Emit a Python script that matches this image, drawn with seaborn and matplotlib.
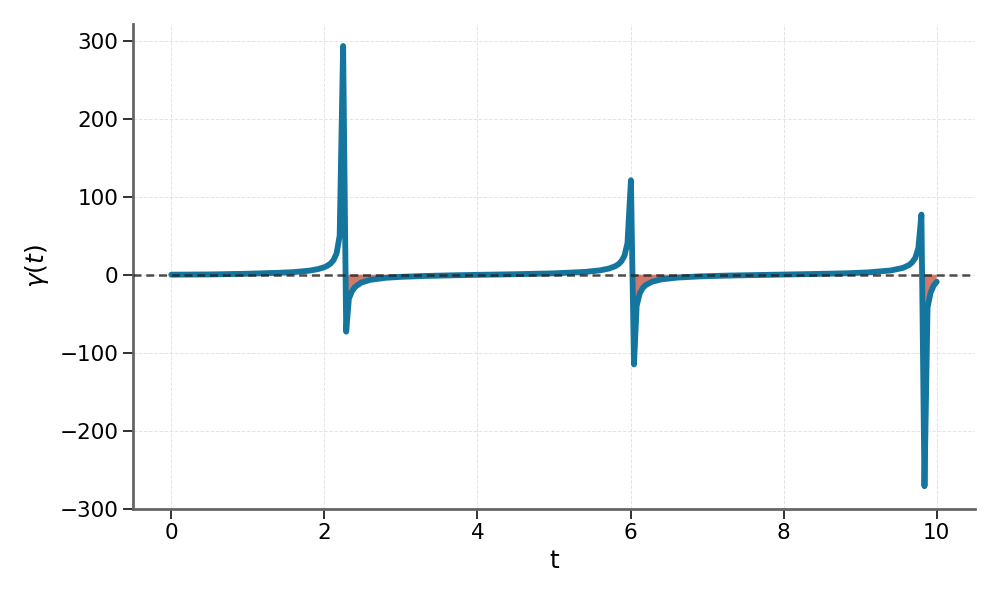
import numpy as np
import pandas as pd
import matplotlib
matplotlib.use("Agg")
import matplotlib.pyplot as plt
import seaborn as sns

t_vals = [0.0, 0.5, 1.0, 1.4, 1.6, 1.8, 1.92, 2.0, 2.04, 2.08, 2.12, 2.16, 2.20, 2.245,
          2.285, 2.32, 2.36, 2.40, 2.48, 2.6, 2.8, 3.0, 3.3, 3.6, 4.0, 4.14, 4.5, 5.0,
          5.4, 5.6, 5.72, 5.8, 5.84, 5.88, 5.92, 5.96, 6.005,
          6.045, 6.08, 6.12, 6.16, 6.2, 6.28, 6.4, 6.6, 6.9, 7.3, 7.8, 8.3, 8.8,
          9.1, 9.4, 9.56, 9.64, 9.68, 9.72, 9.76, 9.80,
          9.84, 9.88, 9.92, 9.96, 10.0]
gamma_vals = [0.0, 0.3, 1.2, 2.4, 3.3, 5.1, 7.2, 9.6, 11.5, 14.2, 18.7, 27.3, 50.1, 293.0,
              -73.0, -31.0, -21.4, -15.8, -10.2, -6.6, -4.0, -2.8, -1.7, -1.0, -0.2, 0.0, 0.6, 1.7,
              3.5, 5.5, 7.9, 10.8, 13.3, 17.2, 24.1, 40.4, 121.0,
              -115.0, -39.7, -23.9, -17.0, -13.2, -9.1, -6.1, -3.8, -2.2, -1.1, -0.2, 0.7, 1.7,
              2.9, 5.4, 8.7, 12.5, 15.9, 21.6, 33.9, 77.0,
              -271.0, -42.0, -23.0, -14.0, -9.0]

x_ticks = [0, 2, 4, 6, 8, 10]
y_ticks = [-300, -200, -100, 0, 100, 200, 300]

sns.set_theme(style="white")
plt.rcParams['font.family'] = ['DejaVu Sans']

df = pd.DataFrame({"t": t_vals, "gamma": gamma_vals})

fig, ax = plt.subplots(figsize=(10, 6), dpi=100)
fig.subplots_adjust(left=0.133, right=0.975, top=0.96, bottom=0.152)

tt = np.asarray(t_vals)
gg = np.asarray(gamma_vals)
ax.fill_between(tt, gg, 0, where=gg < 0, interpolate=True,
                color="#cf6a5c", alpha=0.9, linewidth=0, zorder=1)
sns.lineplot(data=df, x="t", y="gamma", ax=ax, color="#14769e",
             linewidth=4.2, sort=False, zorder=2)
ax.axhline(0, color="#222222", linestyle=(0, (3.2, 1.9)), linewidth=1.8,
           alpha=0.8, zorder=3)

ax.set_xticks(x_ticks)
ax.set_yticks(y_ticks)
ax.grid(True, linestyle="--", color="#dddddd", linewidth=0.7, alpha=0.8)
ax.set_axisbelow(True)
sns.despine(ax=ax)
for s in ["left", "bottom"]:
    ax.spines[s].set_color("#666666")
    ax.spines[s].set_linewidth(2.0)
ax.tick_params(axis="both", which="major", length=7, width=1.3,
               color="#222222", labelsize=15.5, bottom=True, left=True,
               labelcolor="black")
ax.set_xlabel("t", fontsize=18, color="black", labelpad=4)
ax.set_ylabel(r"$\gamma(t)$", fontsize=18, color="black", labelpad=6)

fig.savefig("out.png", dpi=100)
